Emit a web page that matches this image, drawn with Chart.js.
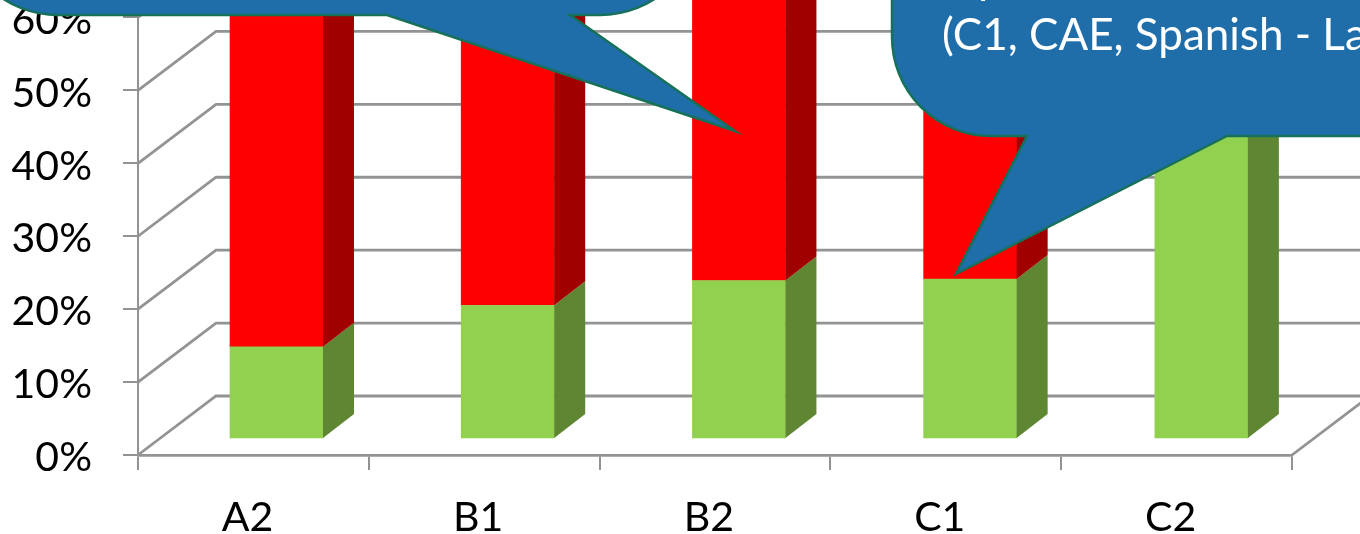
<!DOCTYPE html>
<html>
<head>
<meta charset="utf-8">
<title>Levels</title>
<script src="https://cdn.jsdelivr.net/npm/chart.js@4/dist/chart.umd.js"></script>
<style>
  html, body { margin: 0; padding: 0; background: #fff; overflow: hidden; }
  canvas { display: block; }
</style>
</head>
<body>
<canvas id="levelChart" width="1360" height="534"></canvas>
<script>
var categories = ['A2', 'B1', 'B2', 'C1', 'C2'];
var greenValues = [12.5, 18.2, 21.6, 21.8, 100];
var redValues = [87.5, 81.8, 78.4, 78.2, 0];
var yTicks = [0, 10, 20, 30, 40, 50, 60];

var AXIS_GREY = '#939393';
var GREEN = '#92d050', GREEN_SIDE = '#5f8632';
var RED = '#ff0000', RED_SIDE = '#a00000';
var BUBBLE_FILL = '#1f6eaa', BUBBLE_EDGE = '#17705a';

// depth of the fake 3d room and of the bars standing in it
var WALL_DX = 78, WALL_DY = -59;
var BAR_DX = 31, BAR_DY = -24;

function toPoints(values) {
    return values.map(function (v, i) { return { x: i, y: v }; });
}

// back wall lines and the floor, behind the bars
var roomPlugin = {
    id: 'room',
    beforeDatasetsDraw: function (chart) {
        var ctx = chart.ctx, y = chart.scales.y, area = chart.chartArea;
        ctx.save();
        ctx.strokeStyle = AXIS_GREY;
        ctx.lineWidth = 2.8;
        yTicks.forEach(function (t) {
            var py = y.getPixelForValue(t);
            ctx.beginPath();
            ctx.moveTo(area.left, py);
            ctx.lineTo(area.left + WALL_DX, py + WALL_DY);
            ctx.lineTo(area.right + WALL_DX, py + WALL_DY);
            ctx.stroke();
        });
        var floor = y.getPixelForValue(0);
        ctx.beginPath();
        ctx.moveTo(area.right, floor);
        ctx.lineTo(area.right + WALL_DX, floor + WALL_DY);
        ctx.stroke();
        ctx.restore();
    }
};

// right hand side of every bar segment
var barSidePlugin = {
    id: 'barSides',
    afterDatasetsDraw: function (chart) {
        var ctx = chart.ctx;
        chart.data.datasets.forEach(function (ds, d) {
            chart.getDatasetMeta(d).data.forEach(function (bar) {
                if (bar.base === bar.y) return;
                var x = bar.x + bar.width / 2;
                ctx.fillStyle = ds.sideColor;
                ctx.beginPath();
                ctx.moveTo(x, bar.base);
                ctx.lineTo(x + BAR_DX, bar.base + BAR_DY);
                ctx.lineTo(x + BAR_DX, bar.y + BAR_DY);
                ctx.lineTo(x, bar.y);
                ctx.closePath();
                ctx.fill();
            });
        });
    }
};

// the two speech bubbles on top of the chart
var bubblePlugin = {
    id: 'bubbles',
    afterDraw: function (chart) {
        var ctx = chart.ctx;
        ctx.save();
        ctx.fillStyle = BUBBLE_FILL;
        ctx.strokeStyle = BUBBLE_EDGE;
        ctx.lineWidth = 2.5;
        ctx.lineJoin = 'miter';

        ctx.beginPath();
        ctx.moveTo(-43, -200);
        ctx.lineTo(-43, -86);
        ctx.arc(58, -86, 101, Math.PI, Math.PI / 2, true);
        ctx.lineTo(387, 15);
        ctx.lineTo(735, 131);
        ctx.lineTo(570, 15);
        ctx.lineTo(600, 15);
        ctx.arc(600, -86, 101, Math.PI / 2, 0, true);
        ctx.lineTo(701, -200);
        ctx.closePath();
        ctx.fill();
        ctx.stroke();

        ctx.beginPath();
        ctx.moveTo(892, -100);
        ctx.lineTo(892, 37);
        ctx.arc(991, 37, 99, Math.PI, Math.PI / 2, true);
        ctx.lineTo(1027, 136);
        ctx.lineTo(956, 274);
        ctx.lineTo(1227, 136);
        ctx.lineTo(1500, 136);
        ctx.lineTo(1500, -100);
        ctx.closePath();
        ctx.fill();
        ctx.stroke();

        ctx.fillStyle = '#ffffff';
        ctx.font = '44px Lato';
        ctx.textBaseline = 'alphabetic';
        ctx.textAlign = 'left';
        ctx.fillText('p', 978, -7);
        ctx.fillText('(C1, CAE, Spanish - La', 942, 50);
        ctx.restore();
    }
};

var ctx = document.getElementById('levelChart').getContext('2d');
var levelChart = new Chart(ctx, {
    type: 'bar',
    data: {
        labels: categories,
        datasets: [
            { data: toPoints(greenValues), backgroundColor: GREEN, sideColor: GREEN_SIDE, xAxisID: 'xBars', yAxisID: 'yBars' },
            { data: toPoints(redValues), backgroundColor: RED, sideColor: RED_SIDE, xAxisID: 'xBars', yAxisID: 'yBars' }
        ]
    },
    plugins: [roomPlugin, barSidePlugin, bubblePlugin],
    options: {
        responsive: false,
        animation: false,
        barThickness: 93,
        layout: { padding: { left: 0, top: 0, right: 68, bottom: 0 } },
        plugins: { legend: { display: false }, tooltip: { enabled: false } },
        scales: {
            x: {
                type: 'category',
                position: 'bottom',
                offset: true,
                grid: { offset: true, drawOnChartArea: false, color: AXIS_GREY, lineWidth: 2, tickLength: 15 },
                border: { color: AXIS_GREY, width: 2.8 },
                ticks: { color: '#000', font: { family: 'Lato', size: 41 }, padding: 23, labelOffset: -6, maxRotation: 0 },
                afterFit: function (scale) {
                    scale.height = 79;
                    scale.paddingLeft = 0;
                    scale.paddingRight = 0;
                }
            },
            y: {
                type: 'linear',
                position: 'left',
                min: 0,
                max: 62.4,
                grid: { drawOnChartArea: false, color: AXIS_GREY, lineWidth: 2, tickLength: 15 },
                border: { color: AXIS_GREY, width: 2 },
                ticks: {
                    color: '#000',
                    font: { family: 'Lato', size: 41 },
                    padding: 31,
                    labelOffset: 3,
                    stepSize: 10,
                    includeBounds: false,
                    callback: function (v) { return v + '%'; }
                },
                afterFit: function (scale) {
                    scale.width = 138;
                    scale.paddingTop = 0;
                    scale.paddingBottom = 0;
                }
            },
            // bars stand further back in the room, so they get their own shifted scales
            xBars: { type: 'linear', display: false, offset: false, stacked: true, min: -0.599, max: 4.392 },
            yBars: { type: 'linear', display: false, stacked: true, min: -2.33, max: 60.07 }
        }
    }
});
</script>
</body>
</html>
